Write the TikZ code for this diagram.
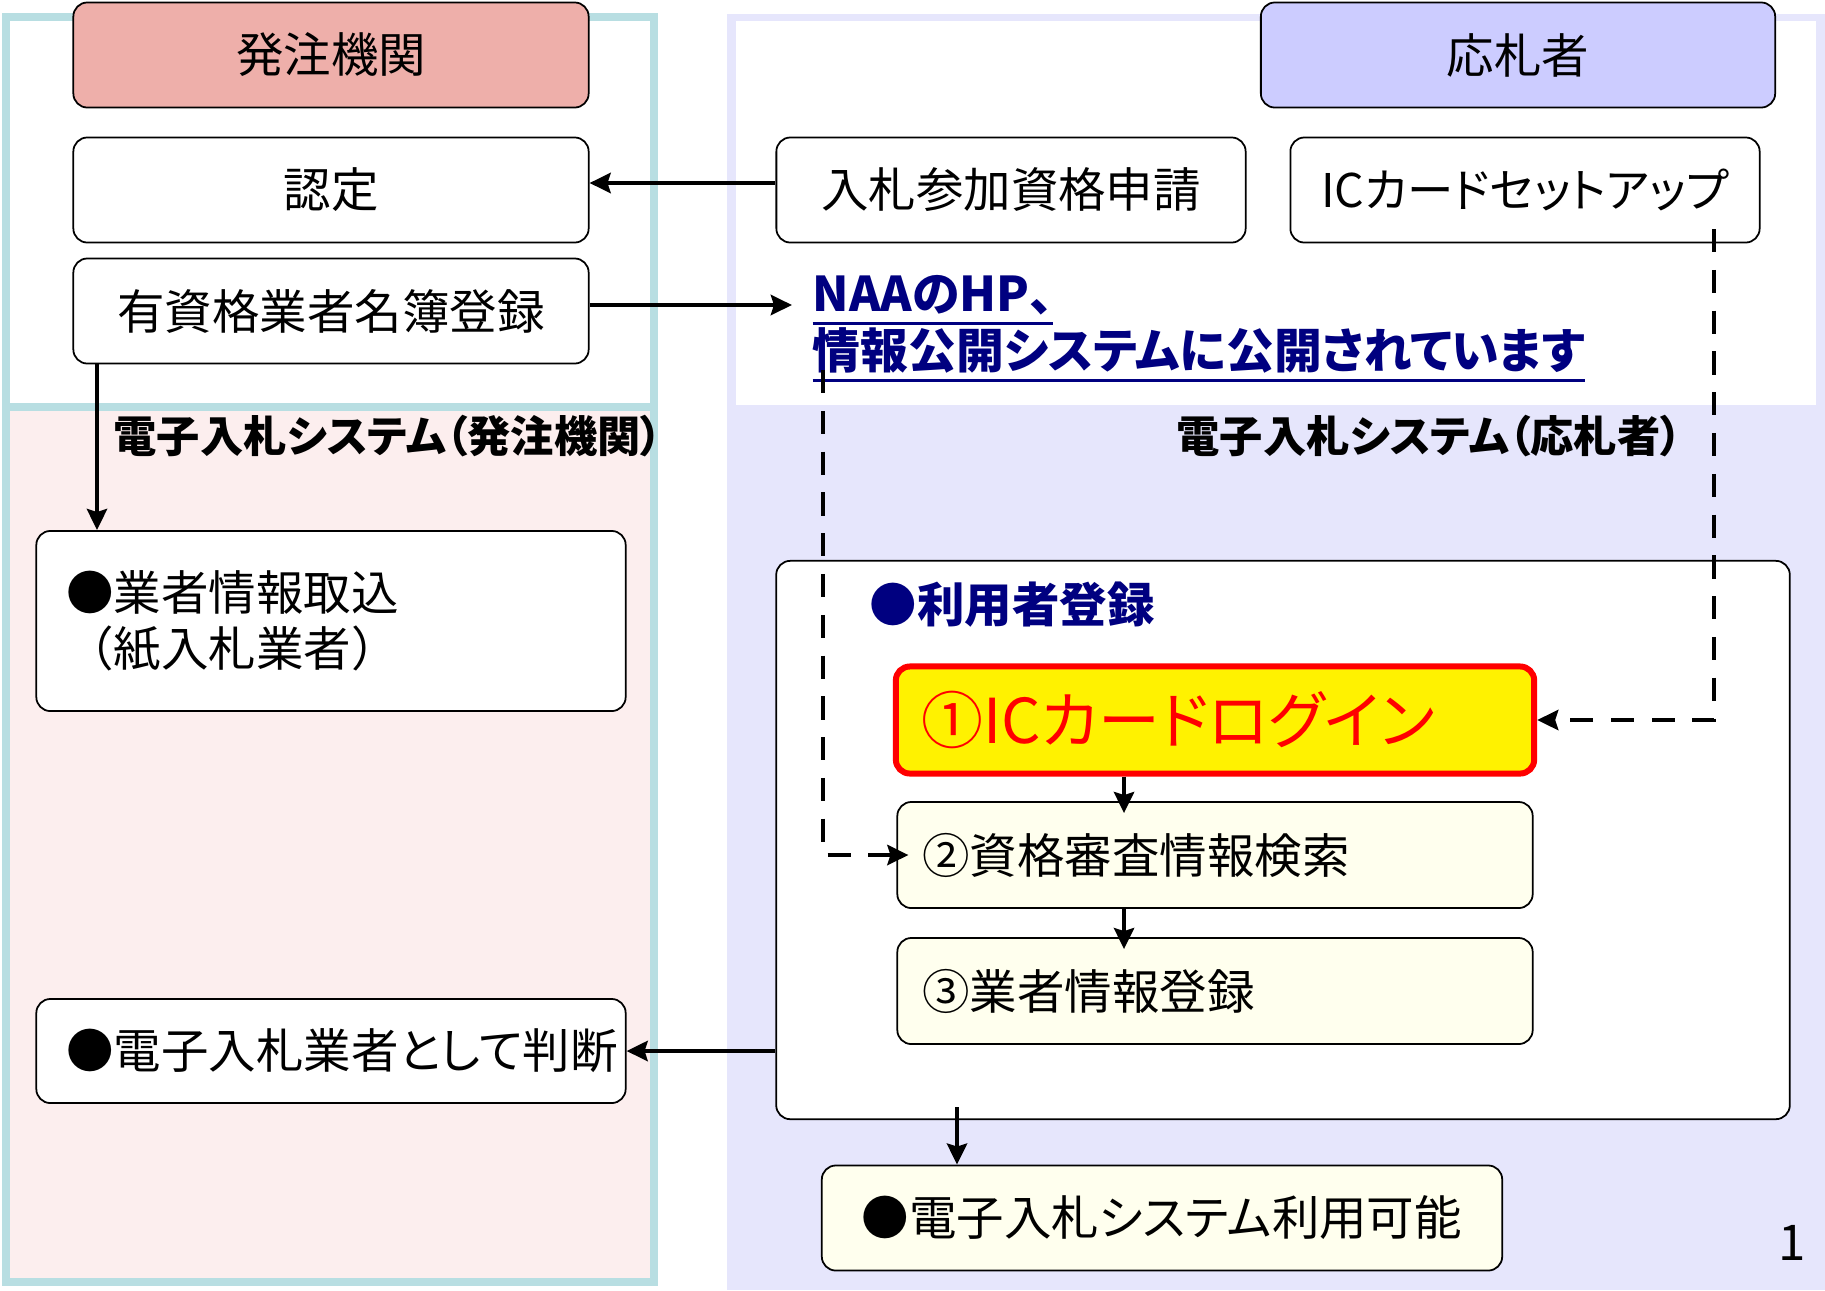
\documentclass[tikz,border=0pt]{standalone}
\usepackage{fontspec}
\setmainfont{Noto Sans CJK JP}[RawFeature=+palt]
\newfontfamily\jpfull{Noto Sans CJK JP}
\usepackage{tikz}
\usetikzlibrary{positioning}
\usetikzlibrary{arrows.meta}
\definecolor{hdrpink}{HTML}{EEAFAA}
\definecolor{hdrblue}{HTML}{CCCCFF}
\definecolor{panelcyan}{HTML}{B8DEE2}
\definecolor{panelpink}{HTML}{FCEEEE}
\definecolor{panelblue}{HTML}{E6E6FC}
\definecolor{ivory}{HTML}{FFFFEE}
\definecolor{naablue}{HTML}{000080}
\newcommand{\hpline}[1]{\setbox0=\hbox{#1}\leavevmode\rlap{\rule[-3.8pt]{\wd0}{0.8pt}}\box0}

\begin{document}
\begin{tikzpicture}[x=0.01cm, y=-0.01cm, >={Stealth[length=0.21cm, width=0.2cm, inset=0.03cm]},
	box/.style={draw, rounded corners=0.14cm, line width=0.5pt, fill=white, inner sep=0pt, minimum height=1.05cm, font=\fontsize{13.5}{16}\selectfont},
	lbox/.style={box, align=left, inner xsep=0.3cm},
	lbl/.style={inner sep=0pt},
	arr/.style={line width=1.3pt, ->},
	darr/.style={line width=1.3pt, ->, dash pattern=on 6.6pt off 5pt}]
	\useasboundingbox (0,0) rectangle (1825,1290);

	% panels
	\fill[panelpink] (6,407) rectangle (654,1282);
	\draw[panelcyan, line width=2.3pt] (6,17) rectangle (654,1282);
	\draw[panelcyan, line width=2.3pt] (6,407) -- (654,407);
	\fill[panelblue] (727,14) rectangle (1825,1290);
	\fill[white] (736,21) rectangle (1816,405);

	\node[box, fill=hdrpink, minimum width=5.15cm] (hatchu) at (331,55) {発注機関};
	\node[box, fill=hdrblue, minimum width=5.14cm] (osatsu) at (1518,55) {応札者};
	\node[box, minimum width=5.15cm] (nintei) at (331,190) {認定};
	\node[box, minimum width=4.69cm] (shinsei) at (1011,190) {入札参加資格申請};
	\node[box, minimum width=4.69cm, font=\fontsize{13.2}{16}\selectfont] (icsetup) at (1525,190) {ICカードセットアップ};
	\node[box, minimum width=5.15cm] (meibo) at (331,311) {有資格業者名簿登録};
	\node[lbl, anchor=north west, align=left, text=naablue, font=\bfseries\fontsize{13.6}{16}\selectfont] (naa) at (812,275) {\hpline{NAAのHP、}\\\hpline{情報公開システムに公開されています}};

	\node[lbl, anchor=west, font=\bfseries\fontsize{12.3}{14}\selectfont] (sysA) at (113,436) {電子入札システム（発注機関）};
	\node[lbl, anchor=west, font=\bfseries\fontsize{12.3}{14}\selectfont] (sysB) at (1176,436) {電子入札システム（応札者）};

	\node[lbox, text width=5.29cm, minimum height=1.8cm] (torikomi) at (331,621) {●業者情報取込\\{\jpfull （紙入札業者）}};
	\node[lbox, text width=5.29cm, minimum height=1.04cm] (handan) at (331,1051) {●電子入札業者として判断};

	\node[box, minimum width=10.13cm, minimum height=5.58cm] (touroku) at (1283,840) {};
	\node[lbl, anchor=west, text=naablue, font=\bfseries\fontsize{13.5}{16}\selectfont] (tourokuttl) at (869,605) {●利用者登録};
	\node[lbox, draw=red, line width=1.7pt, fill=yellow, text=red, inner xsep=0.26cm, text width=5.86cm, minimum height=1.07cm, font=\fontsize{17.6}{20}\selectfont] (login) at (1215,720) {①ICカードログイン};
	\node[lbox, fill=ivory, inner xsep=0.25cm, text width=5.85cm, minimum height=1.06cm] (kensaku) at (1215,855) {②資格審査情報検索};
	\node[lbox, fill=ivory, inner xsep=0.25cm, text width=5.85cm, minimum height=1.06cm] (gyosha) at (1215,991) {③業者情報登録};
	\node[lbox, fill=ivory, inner xsep=0.4cm, text width=6.0cm] (kanou) at (1162,1218) {●電子入札システム利用可能};

	\node[lbl, font=\fontsize{14}{16}\selectfont] (pgno) at (1792,1243) {1};

	% connectors
	\coordinate (lx) at (97,0);
	\coordinate (cx) at (1124,0);
	\coordinate (dx) at (957,0);
	\coordinate (naafoot) at (823,370);
	\coordinate (icfoot) at (1714,229);

	\draw[arr] ([yshift=0.07cm]shinsei.west) -- ([yshift=0.07cm]nintei.east);
	\draw[arr] ([yshift=0.06cm]meibo.east) -- ([xshift=-0.2cm,yshift=0.06cm]meibo.east -| naa.west);
	\draw[arr] (meibo.south -| lx) -- (torikomi.north -| lx);
	\draw[darr, shorten >=-0.12cm] (naafoot) |- (kensaku.west);
	\draw[darr] (icfoot) |- (login.east);
	\draw[arr, shorten >=-0.12cm] (login.south -| cx) -- (kensaku.north -| cx);
	\draw[arr, shorten >=-0.12cm] (kensaku.south -| cx) -- (gyosha.north -| cx);
	\draw[arr] (touroku.west |- handan.east) -- (handan.east);
	\draw[arr] ([yshift=0.13cm]touroku.south -| dx) -- (kanou.north -| dx);
\end{tikzpicture}
\end{document}
